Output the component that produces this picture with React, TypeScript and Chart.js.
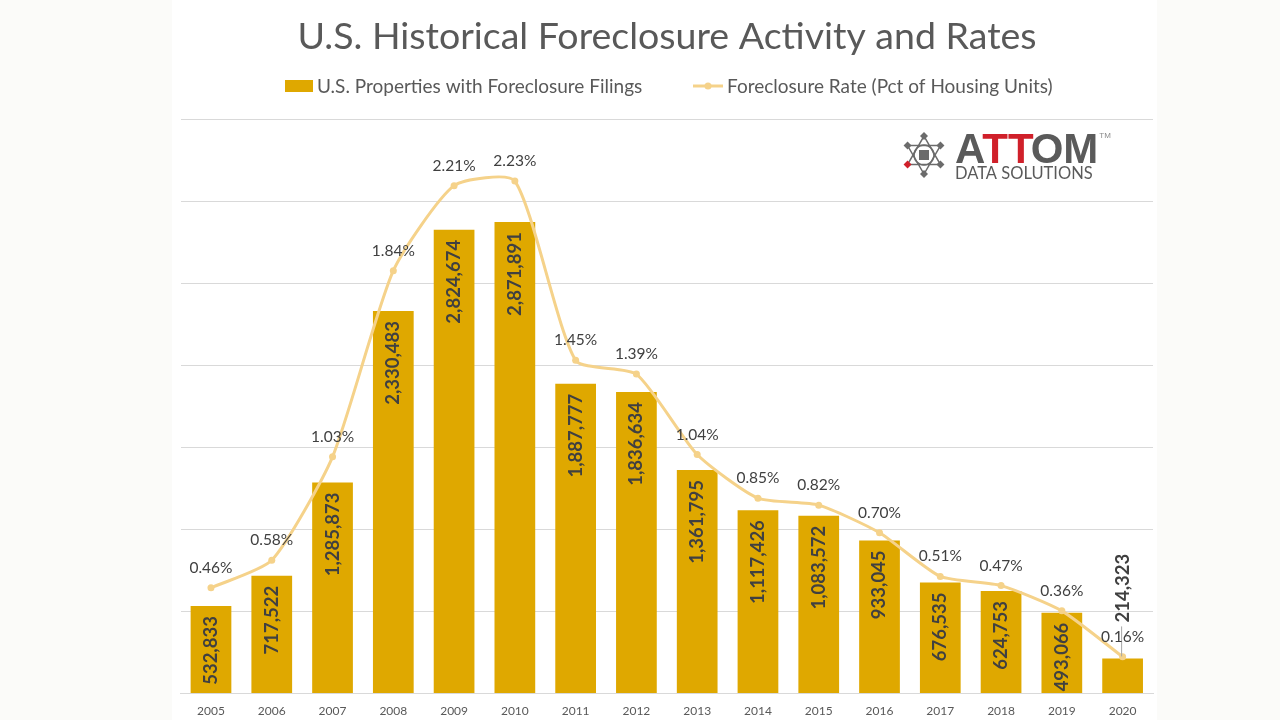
import React, { useEffect, useRef } from "react";
import { Chart, registerables } from "chart.js";

Chart.register(...registerables);

const years = ["2005", "2006", "2007", "2008", "2009", "2010", "2011", "2012", "2013", "2014", "2015", "2016", "2017", "2018", "2019", "2020"];
const filings = [532833, 717522, 1285873, 2330483, 2824674, 2871891, 1887777, 1836634, 1361795, 1117426, 1083572, 933045, 676535, 624753, 493066, 214323];
const rates = [0.46, 0.58, 1.03, 1.84, 2.21, 2.23, 1.45, 1.39, 1.04, 0.85, 0.82, 0.7, 0.51, 0.47, 0.36, 0.16];

const filingsMax = 3500000;
const filingsStep = 500000;
const rateMax = 2.5;

const titleText = "U.S. Historical Foreclosure Activity and Rates";
const barLabel = "U.S. Properties with Foreclosure Filings";
const lineLabel = "Foreclosure Rate (Pct of Housing Units)";

const FONT = "Lato, 'Open Sans', sans-serif";
const BAR_COLOR = "#dfa800";
const LINE_COLOR = "#f5d28a";
const TEXT = "#595959";
const DARK = "#404040";

const W = 985;
const H = 731;

const decorPlugin = {
  id: "decor",
  afterDraw(chart: any) {
    const ctx = chart.ctx as CanvasRenderingContext2D;
    ctx.save();
    // Title
    ctx.fillStyle = TEXT;
    ctx.font = `37.5px ${FONT}`;
    ctx.textAlign = "center";
    ctx.textBaseline = "middle";
    ctx.fillText(titleText, 667 - 172, 37);

    // Legend
    ctx.font = `19px ${FONT}`;
    ctx.textAlign = "left";
    ctx.fillStyle = BAR_COLOR;
    ctx.fillRect(285 - 172, 80, 28, 12);
    ctx.fillStyle = TEXT;
    ctx.fillText(barLabel, 317 - 172, 87);
    ctx.strokeStyle = LINE_COLOR;
    ctx.lineWidth = 3;
    ctx.beginPath();
    ctx.moveTo(693 - 172, 86);
    ctx.lineTo(723 - 172, 86);
    ctx.stroke();
    ctx.fillStyle = LINE_COLOR;
    ctx.beginPath();
    ctx.arc(708 - 172, 86, 3.5, 0, Math.PI * 2);
    ctx.fill();
    ctx.fillStyle = TEXT;
    ctx.fillText(lineLabel, 727 - 172, 87);

    // Logo icon
    const cx = 924 - 172;
    const cy = 155;
    ctx.strokeStyle = "#6b6b6b";
    ctx.lineWidth = 1.5;
    const pts: [number, number][] = [];
    for (let k = 0; k < 6; k++) {
      const a = -Math.PI / 2 + (k * Math.PI) / 3;
      pts.push([cx + 19 * Math.cos(a), cy + 19 * Math.sin(a)]);
    }
    ctx.beginPath();
    ctx.moveTo(pts[0][0], pts[0][1]);
    ctx.lineTo(pts[2][0], pts[2][1]);
    ctx.lineTo(pts[4][0], pts[4][1]);
    ctx.closePath();
    ctx.moveTo(pts[1][0], pts[1][1]);
    ctx.lineTo(pts[3][0], pts[3][1]);
    ctx.lineTo(pts[5][0], pts[5][1]);
    ctx.closePath();
    ctx.stroke();
    ctx.beginPath();
    ctx.arc(cx, cy, 10, 0, Math.PI * 2);
    ctx.stroke();
    ctx.fillStyle = "#6b6b6b";
    ctx.fillRect(cx - 5, cy - 5, 10, 10);
    pts.forEach(([px, py], k) => {
      ctx.fillStyle = k === 4 ? "#d0202a" : "#6b6b6b";
      ctx.beginPath();
      ctx.moveTo(px, py - 4);
      ctx.lineTo(px + 4, py);
      ctx.lineTo(px, py + 4);
      ctx.lineTo(px - 4, py);
      ctx.closePath();
      ctx.fill();
    });

    // Logo text
    ctx.textBaseline = "alphabetic";
    ctx.textAlign = "left";
    ctx.font = `bold 42px 'Liberation Sans', Arial, sans-serif`;
    let x = 955 - 172;
    const parts: [string, string][] = [["A", "#5a5a5a"], ["TT", "#d0202a"], ["OM", "#5a5a5a"]];
    parts.forEach(([t, c]) => {
      ctx.fillStyle = c;
      ctx.fillText(t, x, 163);
      x += ctx.measureText(t).width - 3;
    });
    ctx.fillStyle = "#8a8a8a";
    ctx.font = `8px 'Liberation Sans', Arial, sans-serif`;
    ctx.fillText("TM", x + 4, 138);
    ctx.fillStyle = "#5a5a5a";
    ctx.font = `16.5px ${FONT}`;
    ctx.fillText("DATA SOLUTIONS", 955 - 172, 179);
    ctx.restore();
  },
};

const labelPlugin = {
  id: "valueLabels",
  afterDatasetsDraw(chart: any) {
    const ctx = chart.ctx as CanvasRenderingContext2D;
    const barMeta = chart.getDatasetMeta(0);
    const lineMeta = chart.getDatasetMeta(1);
    ctx.save();
    ctx.font = `bold 18.5px ${FONT}`;
    ctx.fillStyle = DARK;
    ctx.textBaseline = "middle";
    barMeta.data.forEach((bar: any, i: number) => {
      const text = filings[i].toLocaleString("en-US");
      const w = ctx.measureText(text).width;
      const inside = bar.base - bar.y > w;
      ctx.save();
      if (inside) {
        ctx.translate(bar.x, bar.y + 10);
        ctx.rotate(-Math.PI / 2);
        ctx.textAlign = "right";
        ctx.fillText(text, 0, 0);
      } else {
        ctx.translate(bar.x, bar.y - 36);
        ctx.rotate(-Math.PI / 2);
        ctx.textAlign = "left";
        ctx.fillText(text, 0, 0);
        ctx.restore();
        ctx.save();
        ctx.strokeStyle = "#a6a6a6";
        ctx.lineWidth = 1;
        ctx.beginPath();
        ctx.moveTo(bar.x - 1, bar.y - 32);
        ctx.lineTo(bar.x - 1, bar.y - 2);
        ctx.stroke();
      }
      ctx.restore();
    });
    ctx.font = `15.5px ${FONT}`;
    ctx.textAlign = "center";
    ctx.fillStyle = DARK;
    lineMeta.data.forEach((pt: any, i: number) => {
      ctx.fillText(rates[i].toFixed(2) + "%", pt.x, pt.y - 20);
    });
    ctx.restore();
  },
};

export default function App() {
  const ref = useRef<HTMLCanvasElement | null>(null);
  useEffect(() => {
    if (!ref.current) return;
    const chart = new Chart(ref.current, {
      type: "bar",
      data: {
        labels: years,
        datasets: [
          {
            type: "bar",
            label: barLabel,
            data: filings,
            backgroundColor: BAR_COLOR,
            barPercentage: 0.67,
            categoryPercentage: 1,
            yAxisID: "y",
            order: 2,
          },
          {
            type: "line",
            label: lineLabel,
            data: rates,
            borderColor: LINE_COLOR,
            backgroundColor: LINE_COLOR,
            borderWidth: 3,
            pointRadius: 3.5,
            pointBackgroundColor: LINE_COLOR,
            pointBorderWidth: 0,
            tension: 0.2,
            yAxisID: "y1",
            order: 1,
          },
        ],
      } as any,
      options: {
        responsive: false,
        animation: false,
        layout: { padding: { left: 8.6, right: 2.4, top: 119, bottom: 3 } },
        plugins: {
          legend: { display: false },
          title: { display: false },
          tooltip: { enabled: false },
        },
        scales: {
          x: {
            grid: { display: false, drawTicks: false },
            border: { display: true, color: "#d9d9d9" },
            ticks: { color: TEXT, font: { family: FONT, size: 12 }, padding: 10 },
          },
          y: {
            position: "left",
            min: 0,
            max: filingsMax,
            ticks: { display: false, stepSize: filingsStep },
            grid: { color: "#d9d9d9", drawTicks: false },
            border: { display: false },
          },
          y1: {
            position: "right",
            display: false,
            min: 0,
            max: rateMax,
          },
        },
      },
      plugins: [labelPlugin, decorPlugin],
    } as any);
    return () => chart.destroy();
  }, []);

  return (
    <div style={{ position: "fixed", left: 0, top: 0, width: 1280, height: 720, background: "#fbfbf9", overflow: "hidden" }}>
      <div style={{ position: "absolute", left: 172, top: 0, width: W, height: H, background: "#ffffff" }}>
        <canvas ref={ref} width={W} height={H} style={{ display: "block" }} />
      </div>
    </div>
  );
}
